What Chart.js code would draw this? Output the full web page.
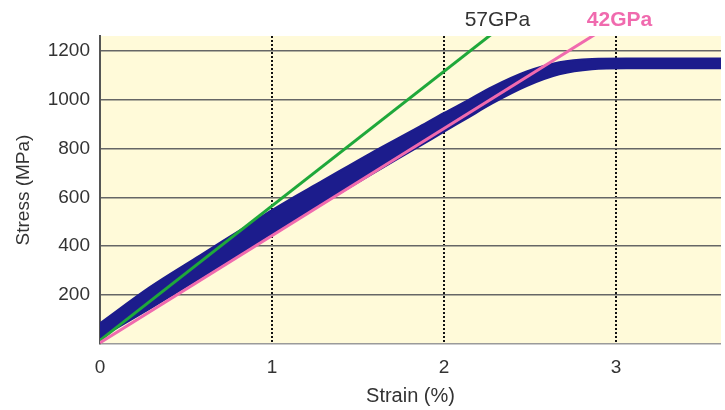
<!DOCTYPE html>
<html>
<head>
<meta charset="utf-8">
<script src="https://cdn.jsdelivr.net/npm/chart.js@4/dist/chart.umd.min.js"></script>
<style>
  html, body { margin: 0; padding: 0; background: #fff; }
  #wrap { width: 725px; height: 410px; }
</style>
</head>
<body>
<div id="wrap"><canvas id="stressChart" width="725" height="410"></canvas></div>
<script>
// measured stress-strain band (upper and lower edge of the scatter)
const strain = [0, 0.29, 0.58, 0.87, 1.0, 1.1, 1.28, 1.57, 1.86, 2.0, 2.13, 2.28, 2.48, 2.67, 2.86, 3.06, 3.61];
const stressUpper = [85, 233, 362, 490, 548, 590, 662, 779, 890, 945, 994, 1052, 1115, 1153, 1166, 1168, 1168];
const stressLower = [25, 145, 268, 394, 452, 494, 568, 691, 810, 869, 922, 984, 1055, 1103, 1124, 1128, 1128];

// modulus lines (two end points each)
const greenStrain = [0, 2.35];
const greenStress = [15, 1308];
const pinkStrain = [0, 3];
const pinkStress = [5, 1320];

const lineLabels = ['57GPa', '42GPa'];
const labelStrain = [2.31, 3.02];

const xTicks = [0, 1, 2, 3];
const yTicks = [0, 200, 400, 600, 800, 1000, 1200];

const toPoints = (xs, ys) => xs.map((x, i) => ({ x: x, y: ys[i] }));

const plotBg = {
    id: 'plotBg',
    beforeDraw(chart) {
        const { ctx, chartArea: a } = chart;
        ctx.save();
        ctx.fillStyle = '#fffad9';
        ctx.fillRect(a.left, a.top, a.right - a.left, a.bottom - a.top);
        ctx.restore();
    }
};

const lineNames = {
    id: 'lineNames',
    afterDraw(chart) {
        const { ctx, chartArea } = chart;
        const xs = chart.scales.x;
        const colors = ['#333333', '#f06aae'];
        const weights = ['normal', 'bold'];
        ctx.save();
        ctx.textAlign = 'center';
        ctx.textBaseline = 'middle';
        lineLabels.forEach((txt, i) => {
            ctx.font = weights[i] + ' 21px "Liberation Sans", Arial, sans-serif';
            ctx.fillStyle = colors[i];
            ctx.fillText(txt, xs.getPixelForValue(labelStrain[i]), chartArea.top - 16);
        });
        ctx.restore();
    }
};

const navy = '#1c1c8c';

const ctx = document.getElementById('stressChart').getContext('2d');
new Chart(ctx, {
    type: 'scatter',
    data: {
        datasets: [
            {
                label: '42GPa',
                data: toPoints(pinkStrain, pinkStress),
                showLine: true,
                borderColor: '#f06aae',
                borderWidth: 3,
                pointRadius: 0,
                clip: 0
            },
            {
                label: '57GPa',
                data: toPoints(greenStrain, greenStress),
                showLine: true,
                borderColor: '#1fa83a',
                borderWidth: 3,
                pointRadius: 0,
                clip: 0
            },
            {
                label: 'Stress upper',
                data: toPoints(strain, stressUpper),
                showLine: true,
                borderColor: navy,
                backgroundColor: navy,
                borderWidth: 2,
                cubicInterpolationMode: 'monotone',
                fill: '+1',
                pointRadius: 0,
                clip: 0
            },
            {
                label: 'Stress lower',
                data: toPoints(strain, stressLower),
                showLine: true,
                borderColor: navy,
                borderWidth: 2,
                cubicInterpolationMode: 'monotone',
                fill: false,
                pointRadius: 0,
                clip: 0
            }
        ]
    },
    options: {
        responsive: false,
        animation: false,
        layout: { padding: { top: 36, right: 4, left: 0, bottom: 0 } },
        plugins: {
            legend: { display: false },
            tooltip: { enabled: false }
        },
        scales: {
            x: {
                type: 'linear',
                min: 0,
                max: 3.61,
                afterBuildTicks: (scale) => { scale.ticks = xTicks.map(v => ({ value: v })); },
                afterFit: (scale) => { scale.height = 66; },
                ticks: {
                    padding: 12,
                    color: '#333',
                    font: { family: '"Liberation Sans", Arial, sans-serif', size: 19 }
                },
                grid: {
                    drawTicks: false,
                    lineWidth: 2,
                    color: (c) => (c.tick && c.tick.value === 0) ? 'rgba(0,0,0,0)' : '#111'
                },
                border: { display: false, dash: [2, 2] },
                title: {
                    display: true,
                    text: 'Strain (%)',
                    color: '#333',
                    padding: { top: 0, bottom: 2 },
                    font: { family: '"Liberation Sans", Arial, sans-serif', size: 20 }
                }
            },
            y: {
                type: 'linear',
                min: 0,
                max: 1260,
                afterBuildTicks: (scale) => { scale.ticks = yTicks.map(v => ({ value: v })); },
                afterFit: (scale) => { scale.width = 100; },
                ticks: {
                    padding: 10,
                    color: '#333',
                    font: { family: '"Liberation Sans", Arial, sans-serif', size: 19 },
                    callback: (v) => v === 0 ? '' : v
                },
                grid: {
                    drawTicks: false,
                    lineWidth: 1.5,
                    color: (c) => (c.tick && c.tick.value === 0) ? '#9a9a9a' : '#666'
                },
                border: { display: true, color: '#555', width: 2 },
                title: {
                    display: true,
                    text: 'Stress (MPa)',
                    color: '#333',
                    padding: { top: 12, bottom: 0 },
                    font: { family: '"Liberation Sans", Arial, sans-serif', size: 19 }
                }
            }
        }
    },
    plugins: [plotBg, lineNames]
});
</script>
</body>
</html>
